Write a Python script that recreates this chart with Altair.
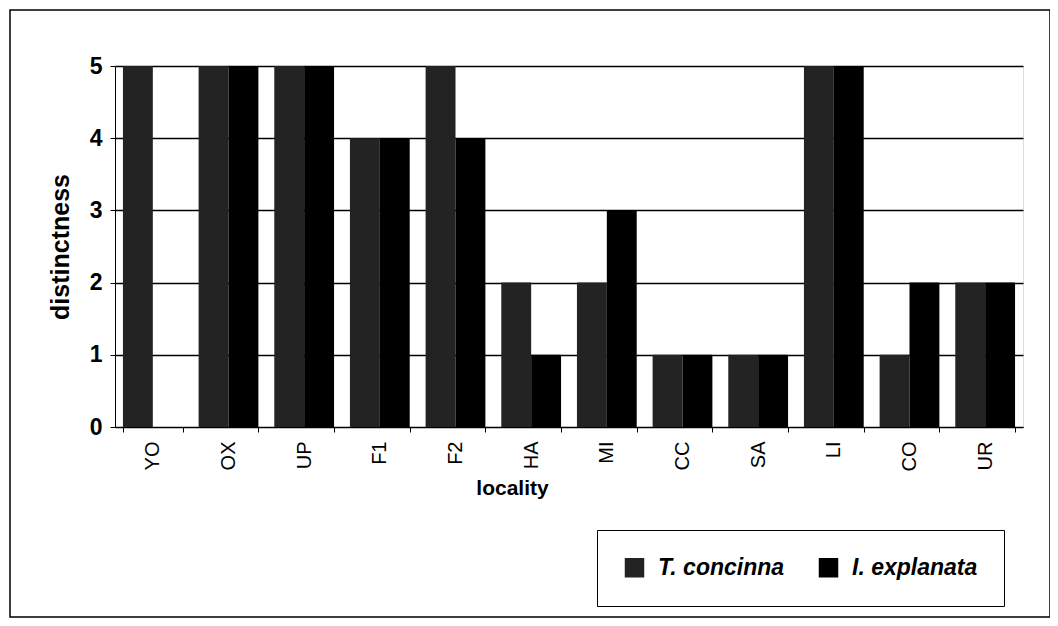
import altair as alt
import pandas as pd

localities = ["YO", "OX", "UP", "F1", "F2", "HA", "MI", "CC", "SA", "LI", "CO", "UR"]
t_concinna = [5, 5, 5, 4, 5, 2, 2, 1, 1, 5, 1, 2]
i_explanata = [0, 5, 5, 4, 4, 1, 3, 1, 1, 5, 2, 2]
series = ["T. concinna", "I. explanata"]

rows = []
for i, loc in enumerate(localities):
    rows.append({"locality": loc, "species": series[0], "distinctness": t_concinna[i]})
    rows.append({"locality": loc, "species": series[1], "distinctness": i_explanata[i]})
df = pd.DataFrame(rows)

font = "Liberation Sans"

bars = alt.Chart(df).mark_bar(stroke=None).encode(
    x=alt.X("locality:N", sort=localities,
            scale=alt.Scale(paddingInner=0.21, paddingOuter=0.105),
            axis=alt.Axis(title="locality", labelAngle=-90, labelFontSize=20,
                          labelFontWeight="normal", labelFont=font, labelPadding=9,
                          titleFontSize=21, titleFontWeight="bold", titleFont=font,
                          titlePadding=6, titleX=397, titleAlign="center",
                          tickBand="extent", tickSize=5,
                          domainColor="black", tickColor="black", labelColor="black",
                          titleColor="black", grid=False)),
    xOffset=alt.XOffset("species:N", sort=series),
    y=alt.Y("distinctness:Q", scale=alt.Scale(domain=[0, 5], nice=False),
            axis=alt.Axis(title="distinctness", values=[0, 1, 2, 3, 4, 5], format="d",
                          labelFontSize=23, labelFontWeight="bold", labelFont=font,
                          titleFontSize=25, titleFontWeight="bold", titleFont=font,
                          titlePadding=16, tickSize=5, labelPadding=8,
                          grid=True, gridColor="black", gridWidth=1.3, gridOpacity=1,
                          domainColor="black", tickColor="black", labelColor="black",
                          titleColor="black")),
    color=alt.Color("species:N", sort=series,
                    scale=alt.Scale(domain=series, range=["#232323", "#000000"]),
                    legend=alt.Legend(title=None, orient="none", legendX=482, legendY=464,
                                      direction="horizontal", symbolType="square",
                                      symbolSize=380, symbolStrokeWidth=0,
                                      labelFontSize=23, labelFont=font,
                                      labelFontWeight="bold", labelFontStyle="italic",
                                      labelColor="black", columnPadding=32,
                                      labelOffset=12,
                                      strokeColor="black", padding=26,
                                      labelLimit=250)),
)

frame = alt.Chart(pd.DataFrame({"f": [0]})).mark_rect(
    filled=False, stroke="black", strokeWidth=1.5
).encode(
    x=alt.value(-105), x2=alt.value(935),
    y=alt.value(-56), y2=alt.value(551),
)

chart = alt.layer(frame, bars).properties(
    width=908, height=361,
    autosize=alt.AutoSizeParams(type="none"),
    padding={"left": 107, "top": 58, "right": 27, "bottom": 191},
).configure_view(stroke=None).configure(background="white")

chart.save("out.html", embed_options={"renderer": "svg", "actions": False})
